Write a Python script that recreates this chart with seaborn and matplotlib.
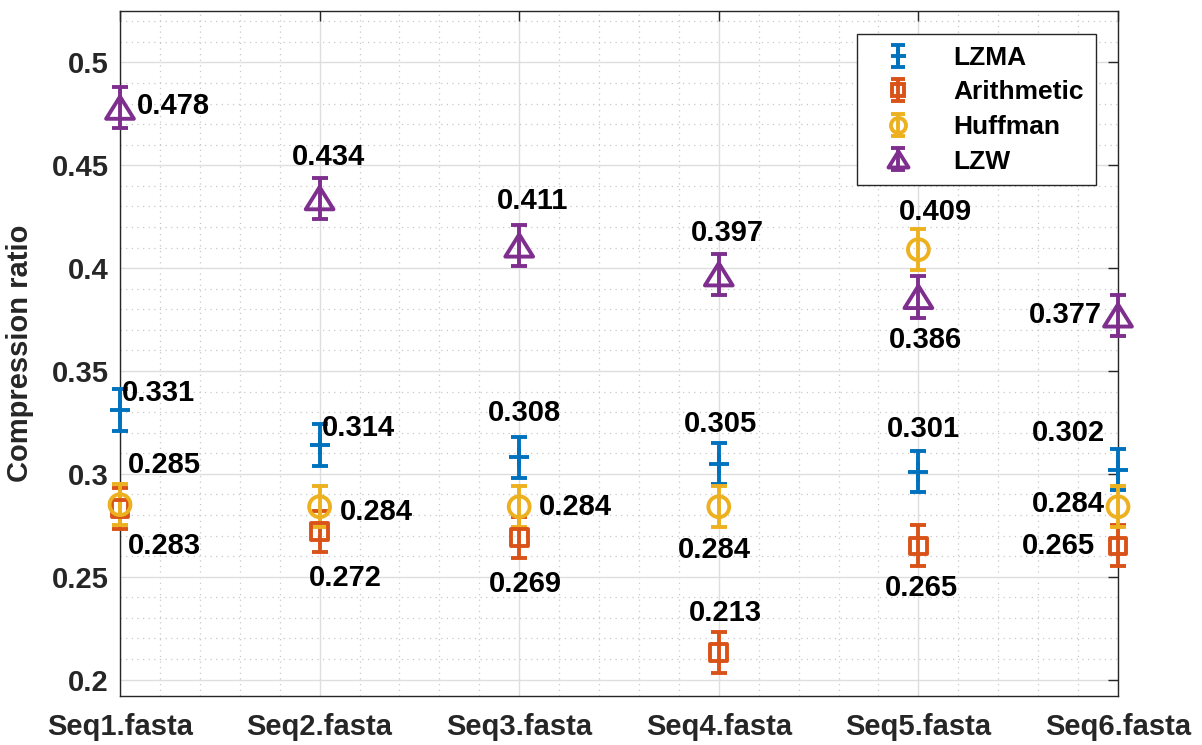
import numpy as np
import pandas as pd
import matplotlib
matplotlib.use("Agg")
import matplotlib.pyplot as plt
import seaborn as sns
from matplotlib.ticker import MultipleLocator
from matplotlib.markers import MarkerStyle
from matplotlib.path import Path
from matplotlib.legend_handler import HandlerErrorbar

# ---------------- data ----------------
files = ["Seq1.fasta", "Seq2.fasta", "Seq3.fasta", "Seq4.fasta", "Seq5.fasta", "Seq6.fasta"]
lzma = [0.331, 0.314, 0.308, 0.305, 0.301, 0.302]
arithmetic = [0.283, 0.272, 0.269, 0.213, 0.265, 0.265]
huffman = [0.285, 0.284, 0.284, 0.284, 0.409, 0.284]
lzw = [0.478, 0.434, 0.411, 0.397, 0.386, 0.377]
error = [0.01, 0.01, 0.01, 0.01, 0.01, 0.01]
series_names = ["LZMA", "Arithmetic", "Huffman", "LZW"]

# label placement (dx, dy, ha) relative to each point
lzma_lab = [(0.01, 0.0085, "left"), (0.01, 0.0085, "left"), (0.025, 0.0218, "center"),
            (0.01, 0.019, "center"), (0.025, 0.021, "center"), (-0.065, 0.018, "right")]
arith_lab = [(0.04, -0.018, "left"), (0.13, -0.0225, "center"), (0.03, -0.0224, "center"),
             (0.035, 0.0195, "center"), (0.015, -0.0204, "center"), (-0.115, 0.0, "right")]
huff_lab = [(0.04, 0.0195, "left"), (0.1, -0.0024, "left"), (0.1, 0.0, "left"),
            (-0.02, -0.0209, "center"), (0.085, 0.0185, "center"), (-0.065, 0.0015, "right")]
lzw_lab = [(0.085, 0.001, "left"), (0.045, 0.0198, "center"), (0.065, 0.0214, "center"),
           (0.045, 0.0203, "center"), (0.035, -0.0207, "center"), (-0.08, 0.0, "right")]

# ---------------- style ----------------
sns.set_theme(style="white")
plt.rcParams["font.family"] = ["Liberation Sans", "DejaVu Sans"]
plt.rcParams["font.weight"] = "bold"

colors = ["#0072BD", "#D95319", "#EDB120", "#7E2F8E"]
tri = MarkerStyle(Path([(-1, -0.8), (1, -0.8), (0, 0.8), (-1, -0.8)],
                       [Path.MOVETO, Path.LINETO, Path.LINETO, Path.CLOSEPOLY]))
markers = ["+", "s", "o", tri]
msizes = [15, 12, 15, 20]
LW = 2.8

df = pd.DataFrame({"file": files, "LZMA": lzma, "Arithmetic": arithmetic,
                   "Huffman": huffman, "LZW": lzw, "err": error})
df["x"] = np.arange(1, len(files) + 1)

fig = plt.figure(figsize=(12.02, 7.45), dpi=100)
ax = fig.add_axes([120 / 1202, 1 - 696 / 745, (1118 - 120) / 1202, (696 - 11) / 745])

labs = [lzma_lab, arith_lab, huff_lab, lzw_lab]
for name, c, m, ms, lab in zip(series_names, colors, markers, msizes, labs):
    cont = ax.errorbar(df["x"], df[name], yerr=df["err"], fmt="none", ecolor=c,
                       elinewidth=LW, capsize=6, capthick=LW, zorder=3)
    for ln in cont.get_children():
        ln.set_clip_on(False)
    if m == "+":
        sns.scatterplot(x="x", y=name, data=df, ax=ax, marker=m, s=ms ** 2,
                        color=c, linewidth=LW, zorder=4, legend=False, clip_on=False)
    else:
        sns.scatterplot(x="x", y=name, data=df, ax=ax, marker=m, s=ms ** 2,
                        facecolors="none", edgecolor=c,
                        linewidth=LW, zorder=4, legend=False, clip_on=False)
    for xi, yi, (dx, dy, ha) in zip(df["x"], df[name], lab):
        ax.text(xi + dx, yi + dy, f"{yi:.3f}", ha=ha, va="center",
                fontsize=21, fontweight="bold", color="black", zorder=6)

# legend handles (errorbar glyphs)
handles = []
for name, c, m, ms in zip(series_names, colors, markers, msizes):
    h = ax.errorbar([np.nan], [np.nan], yerr=[0.01], linestyle="none", marker=m,
                    color=c, ecolor=c, mfc="none", mec=c, ms=ms * 0.72, mew=LW,
                    elinewidth=LW, capsize=5, capthick=LW, label=name)
    handles.append(h)
leg = ax.legend(handles=handles, labels=series_names, loc="upper right",
                bbox_to_anchor=(1 - 22 / 998, 1 - 23 / 685), fontsize=19,
                frameon=True, fancybox=False, framealpha=1, edgecolor="#262626",
                handlelength=2.2, handletextpad=1.0, labelspacing=0.4,
                borderpad=0.45, borderaxespad=0.0,
                handler_map={type(handles[0]): HandlerErrorbar(xerr_size=0.5, yerr_size=0.42)})
leg.get_frame().set_linewidth(1.0)
for t in leg.get_texts():
    t.set_fontweight("bold")
    t.set_color("black")

# axes / grid
ax.set_xlim(1, 6)
ax.set_ylim(0.192, 0.525)
ax.set_xticks(df["x"])
ax.set_xticklabels(files)
ax.yaxis.set_minor_locator(MultipleLocator(0.01))
ax.xaxis.set_minor_locator(MultipleLocator(0.2))
yt = np.round(np.arange(0.2, 0.501, 0.05), 2)
ax.set_yticks(yt)
ax.set_yticklabels([f"{v:g}" for v in yt])
ax.grid(which="major", color="#dedede", linewidth=1.0, linestyle="-")
ax.grid(which="minor", color="#c8c8c8", linewidth=0.9, linestyle=(0, (1, 3.5)))
ax.set_axisbelow(True)
ax.tick_params(which="major", direction="in", length=7.5, width=1.0, color="#262626",
               top=True, right=True, labelsize=21, labelcolor="#262626")
ax.tick_params(axis="y", which="major", pad=8)
ax.tick_params(axis="x", which="major", pad=12)
ax.tick_params(which="minor", length=0)
for lbl in ax.get_xticklabels() + ax.get_yticklabels():
    lbl.set_fontweight("bold")
for s in ax.spines.values():
    s.set_color("#262626")
    s.set_linewidth(1.0)
    s.set_visible(True)
ax.set_xlabel("")
ax.set_ylabel("Compression ratio", fontsize=21, fontweight="bold", color="#262626",
              labelpad=13)

fig.savefig("out.png", dpi=100)
